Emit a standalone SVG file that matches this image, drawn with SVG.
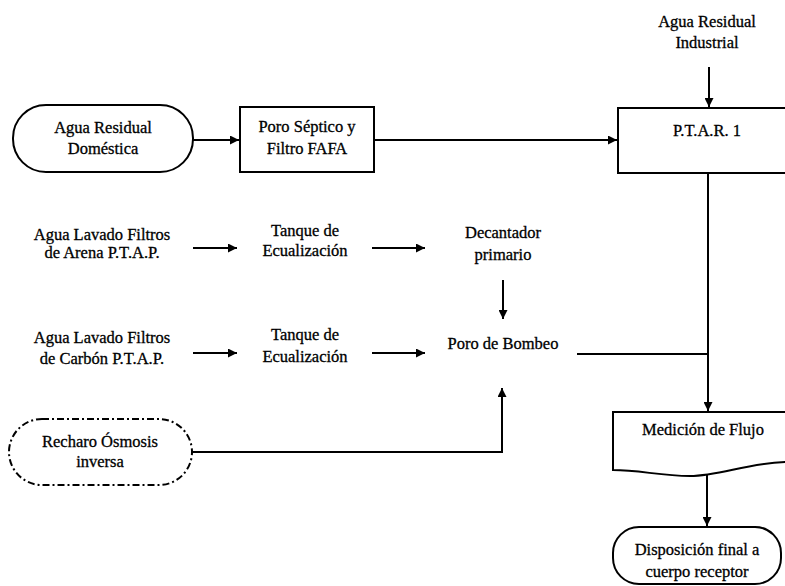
<svg xmlns="http://www.w3.org/2000/svg" width="785" height="586" viewBox="0 0 785 586">
<style>
text{font-size:16.5px;fill:#000;text-anchor:middle;stroke:#000;stroke-width:0.3}
.b{fill:#fff;stroke:#000;stroke-width:2}
.d{fill:#fff;stroke:#000;stroke-width:2;stroke-dasharray:7 3 2 3}
.c{fill:none;stroke:#000;stroke-width:2}
</style>
<defs>
<marker id="ah" viewBox="0 0 10 10" refX="10" refY="5" markerWidth="9" markerHeight="9" markerUnits="userSpaceOnUse" orient="auto">
<path d="M0,0 L10,5 L0,10 Z" fill="#000"/>
</marker>
</defs>
<rect width="785" height="586" fill="#fff"/>
<g id="connectors">
<line class="c" x1="193" y1="140" x2="239" y2="140" marker-end="url(#ah)"/>
<line class="c" x1="374" y1="140" x2="617" y2="140" marker-end="url(#ah)"/>
<line class="c" x1="709" y1="67" x2="709" y2="107" marker-end="url(#ah)"/>
<line class="c" x1="708" y1="173" x2="708" y2="411" marker-end="url(#ah)"/>
<line class="c" x1="707" y1="475" x2="707" y2="526" marker-end="url(#ah)"/>
<line class="c" x1="193" y1="248" x2="237" y2="248" marker-end="url(#ah)"/>
<line class="c" x1="372" y1="248" x2="425" y2="248" marker-end="url(#ah)"/>
<line class="c" x1="503" y1="280" x2="503" y2="319" marker-end="url(#ah)"/>
<line class="c" x1="193" y1="353" x2="237" y2="353" marker-end="url(#ah)"/>
<line class="c" x1="372" y1="353" x2="425" y2="353" marker-end="url(#ah)"/>
<polyline class="c" points="577,354 708,354"/>
<polyline class="c" points="192,452 502,452 502,388" marker-end="url(#ah)"/>
</g>
<g font-family="'Liberation Serif', 'Times New Roman', Times, serif">
<g id="n-domestica">
<rect class="b" x="13" y="105" width="180" height="67" rx="33" ry="33"/>
<text x="103" y="133">Agua Residual</text>
<text x="103" y="154">Doméstica</text>
</g>
<g id="n-poro">
<rect class="b" x="240" y="107" width="134" height="65"/>
<text x="307" y="132">Poro Séptico y</text>
<text x="307" y="154">Filtro FAFA</text>
</g>
<g id="n-industrial">
<text x="707" y="27">Agua Residual</text>
<text x="707" y="48">Industrial</text>
</g>
<g id="n-ptar">
<rect class="b" x="618" y="108" width="180" height="65"/>
<text x="707" y="136">P.T.A.R. 1</text>
</g>
<g id="n-arena">
<text x="102" y="240">Agua Lavado Filtros</text>
<text x="102" y="258">de Arena P.T.A.P.</text>
</g>
<g id="n-tanque1">
<text x="305" y="236">Tanque de</text>
<text x="305" y="256">Ecualización</text>
</g>
<g id="n-decantador">
<text x="503" y="238">Decantador</text>
<text x="503" y="260">primario</text>
</g>
<g id="n-carbon">
<text x="102" y="343">Agua Lavado Filtros</text>
<text x="102" y="364">de Carbón P.T.A.P.</text>
</g>
<g id="n-tanque2">
<text x="305" y="340">Tanque de</text>
<text x="305" y="362">Ecualización</text>
</g>
<g id="n-bombeo">
<text x="503" y="349">Poro de Bombeo</text>
</g>
<g id="n-osmosis">
<rect class="d" x="9" y="419" width="183" height="66" rx="33" ry="33"/>
<text x="100" y="447">Recharo Ósmosis</text>
<text x="100" y="467">inversa</text>
</g>
<g id="n-medicion">
<path class="b" d="M613,412 H790 V462 C750,462 720,476 690,476 C660,476 640,470 613,470 Z"/>
<text x="703" y="435">Medición de Flujo</text>
</g>
<g id="n-disposicion">
<rect class="b" x="613" y="527" width="168" height="57" rx="26" ry="26"/>
<text x="697" y="555">Disposición final a</text>
<text x="697" y="577">cuerpo receptor</text>
</g>
</g>
</svg>
